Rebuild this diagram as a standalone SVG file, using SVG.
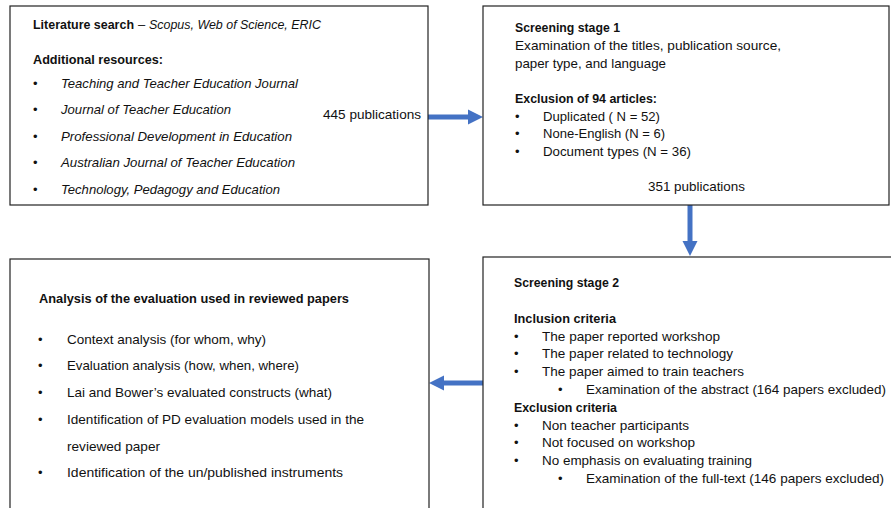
<svg xmlns="http://www.w3.org/2000/svg" width="891" height="508" viewBox="0 0 891 508">
<style>
.box{fill:#fff;stroke:#222;stroke-width:1.2}
text{font-family:"Liberation Sans",Arial,sans-serif;font-size:13px;fill:#111}
.b{font-weight:bold}
.i{font-style:italic}
.conn{stroke:#4472C4;stroke-width:5;fill:none}
</style>
<defs>
<marker id="ah" markerUnits="userSpaceOnUse" markerWidth="16" markerHeight="16" refX="0" refY="8" orient="auto" viewBox="0 0 16 16">
<path d="M0,0.5 L15,8 L0,15.5 Z" fill="#4472C4"/>
</marker>
</defs>
<rect width="891" height="508" fill="#fff"/>
<g id="connectors">
<line class="conn" x1="428" y1="117" x2="468" y2="117" marker-end="url(#ah)"/>
<line class="conn" x1="690" y1="205" x2="690" y2="241" marker-end="url(#ah)"/>
<line class="conn" x1="483" y1="383" x2="444" y2="383" marker-end="url(#ah)"/>
</g>
<g id="literature-search">
<rect class="box" x="10" y="6" width="418" height="199"/>
<text class="b" x="33" y="29" textLength="101" lengthAdjust="spacingAndGlyphs">Literature search</text>
<text x="138" y="29">–</text>
<text class="i" x="149" y="29" textLength="172" lengthAdjust="spacingAndGlyphs">Scopus, Web of Science, ERIC</text>
<text class="b" x="33" y="64" textLength="130" lengthAdjust="spacingAndGlyphs">Additional resources:</text>
<text x="33" y="88">•</text><text class="i" x="61" y="88" textLength="237" lengthAdjust="spacingAndGlyphs">Teaching and Teacher Education Journal</text>
<text x="33" y="114">•</text><text class="i" x="61" y="114" textLength="170" lengthAdjust="spacingAndGlyphs">Journal of Teacher Education</text>
<text x="33" y="141">•</text><text class="i" x="61" y="141" textLength="231" lengthAdjust="spacingAndGlyphs">Professional Development in Education</text>
<text x="33" y="167">•</text><text class="i" x="61" y="167" textLength="234" lengthAdjust="spacingAndGlyphs">Australian Journal of Teacher Education</text>
<text x="33" y="194">•</text><text class="i" x="61" y="194" textLength="219" lengthAdjust="spacingAndGlyphs">Technology, Pedagogy and Education</text>
<text x="323" y="119" textLength="98" lengthAdjust="spacingAndGlyphs">445 publications</text>
</g>
<g id="screening-stage-1">
<rect class="box" x="483" y="6" width="406" height="199"/>
<text class="b" x="515" y="32" textLength="105" lengthAdjust="spacingAndGlyphs">Screening stage 1</text>
<text x="515" y="50" textLength="266" lengthAdjust="spacingAndGlyphs">Examination of the titles, publication source,</text>
<text x="515" y="68" textLength="151" lengthAdjust="spacingAndGlyphs">paper type, and language</text>
<text class="b" x="515" y="103" textLength="142" lengthAdjust="spacingAndGlyphs">Exclusion of 94 articles:</text>
<text x="515" y="121">•</text><text x="543" y="121" textLength="117" lengthAdjust="spacingAndGlyphs">Duplicated ( N = 52)</text>
<text x="515" y="138">•</text><text x="543" y="138" textLength="122" lengthAdjust="spacingAndGlyphs">None-English (N = 6)</text>
<text x="515" y="156">•</text><text x="543" y="156" textLength="148" lengthAdjust="spacingAndGlyphs">Document types (N = 36)</text>
<text x="648" y="191" textLength="97" lengthAdjust="spacingAndGlyphs">351 publications</text>
</g>
<g id="screening-stage-2">
<rect class="box" x="483" y="257" width="420" height="262"/>
<text class="b" x="514" y="287" textLength="105" lengthAdjust="spacingAndGlyphs">Screening stage 2</text>
<text class="b" x="514" y="323" textLength="102" lengthAdjust="spacingAndGlyphs">Inclusion criteria</text>
<text x="514" y="341">•</text><text x="542" y="341" textLength="178" lengthAdjust="spacingAndGlyphs">The paper reported workshop</text>
<text x="514" y="358">•</text><text x="542" y="358" textLength="191" lengthAdjust="spacingAndGlyphs">The paper related to technology</text>
<text x="514" y="376">•</text><text x="542" y="376" textLength="202" lengthAdjust="spacingAndGlyphs">The paper aimed to train teachers</text>
<text x="558" y="394">•</text><text x="586" y="394" textLength="300" lengthAdjust="spacingAndGlyphs">Examination of the abstract (164 papers excluded)</text>
<text class="b" x="514" y="412" textLength="103" lengthAdjust="spacingAndGlyphs">Exclusion criteria</text>
<text x="514" y="430">•</text><text x="542" y="430" textLength="147" lengthAdjust="spacingAndGlyphs">Non teacher participants</text>
<text x="514" y="447">•</text><text x="542" y="447" textLength="153" lengthAdjust="spacingAndGlyphs">Not focused on workshop</text>
<text x="514" y="465">•</text><text x="542" y="465" textLength="210" lengthAdjust="spacingAndGlyphs">No emphasis on evaluating training</text>
<text x="558" y="483">•</text><text x="586" y="483" textLength="298" lengthAdjust="spacingAndGlyphs">Examination of the full-text (146 papers excluded)</text>
</g>
<g id="analysis">
<rect class="box" x="10" y="259" width="419" height="260"/>
<text class="b" x="39" y="303" textLength="310" lengthAdjust="spacingAndGlyphs">Analysis of the evaluation used in reviewed papers</text>
<text x="38" y="344">•</text><text x="67" y="344" textLength="199" lengthAdjust="spacingAndGlyphs">Context analysis (for whom, why)</text>
<text x="38" y="370">•</text><text x="67" y="370" textLength="232" lengthAdjust="spacingAndGlyphs">Evaluation analysis (how, when, where)</text>
<text x="38" y="397">•</text><text x="67" y="397" textLength="265" lengthAdjust="spacingAndGlyphs">Lai and Bower’s evaluated constructs (what)</text>
<text x="38" y="424">•</text><text x="67" y="424" textLength="297" lengthAdjust="spacingAndGlyphs">Identification of PD evaluation models used in the</text>
<text x="67" y="451" textLength="93" lengthAdjust="spacingAndGlyphs">reviewed paper</text>
<text x="38" y="477">•</text><text x="67" y="477" textLength="276" lengthAdjust="spacingAndGlyphs">Identification of the un/published instruments</text>
</g>
</svg>
